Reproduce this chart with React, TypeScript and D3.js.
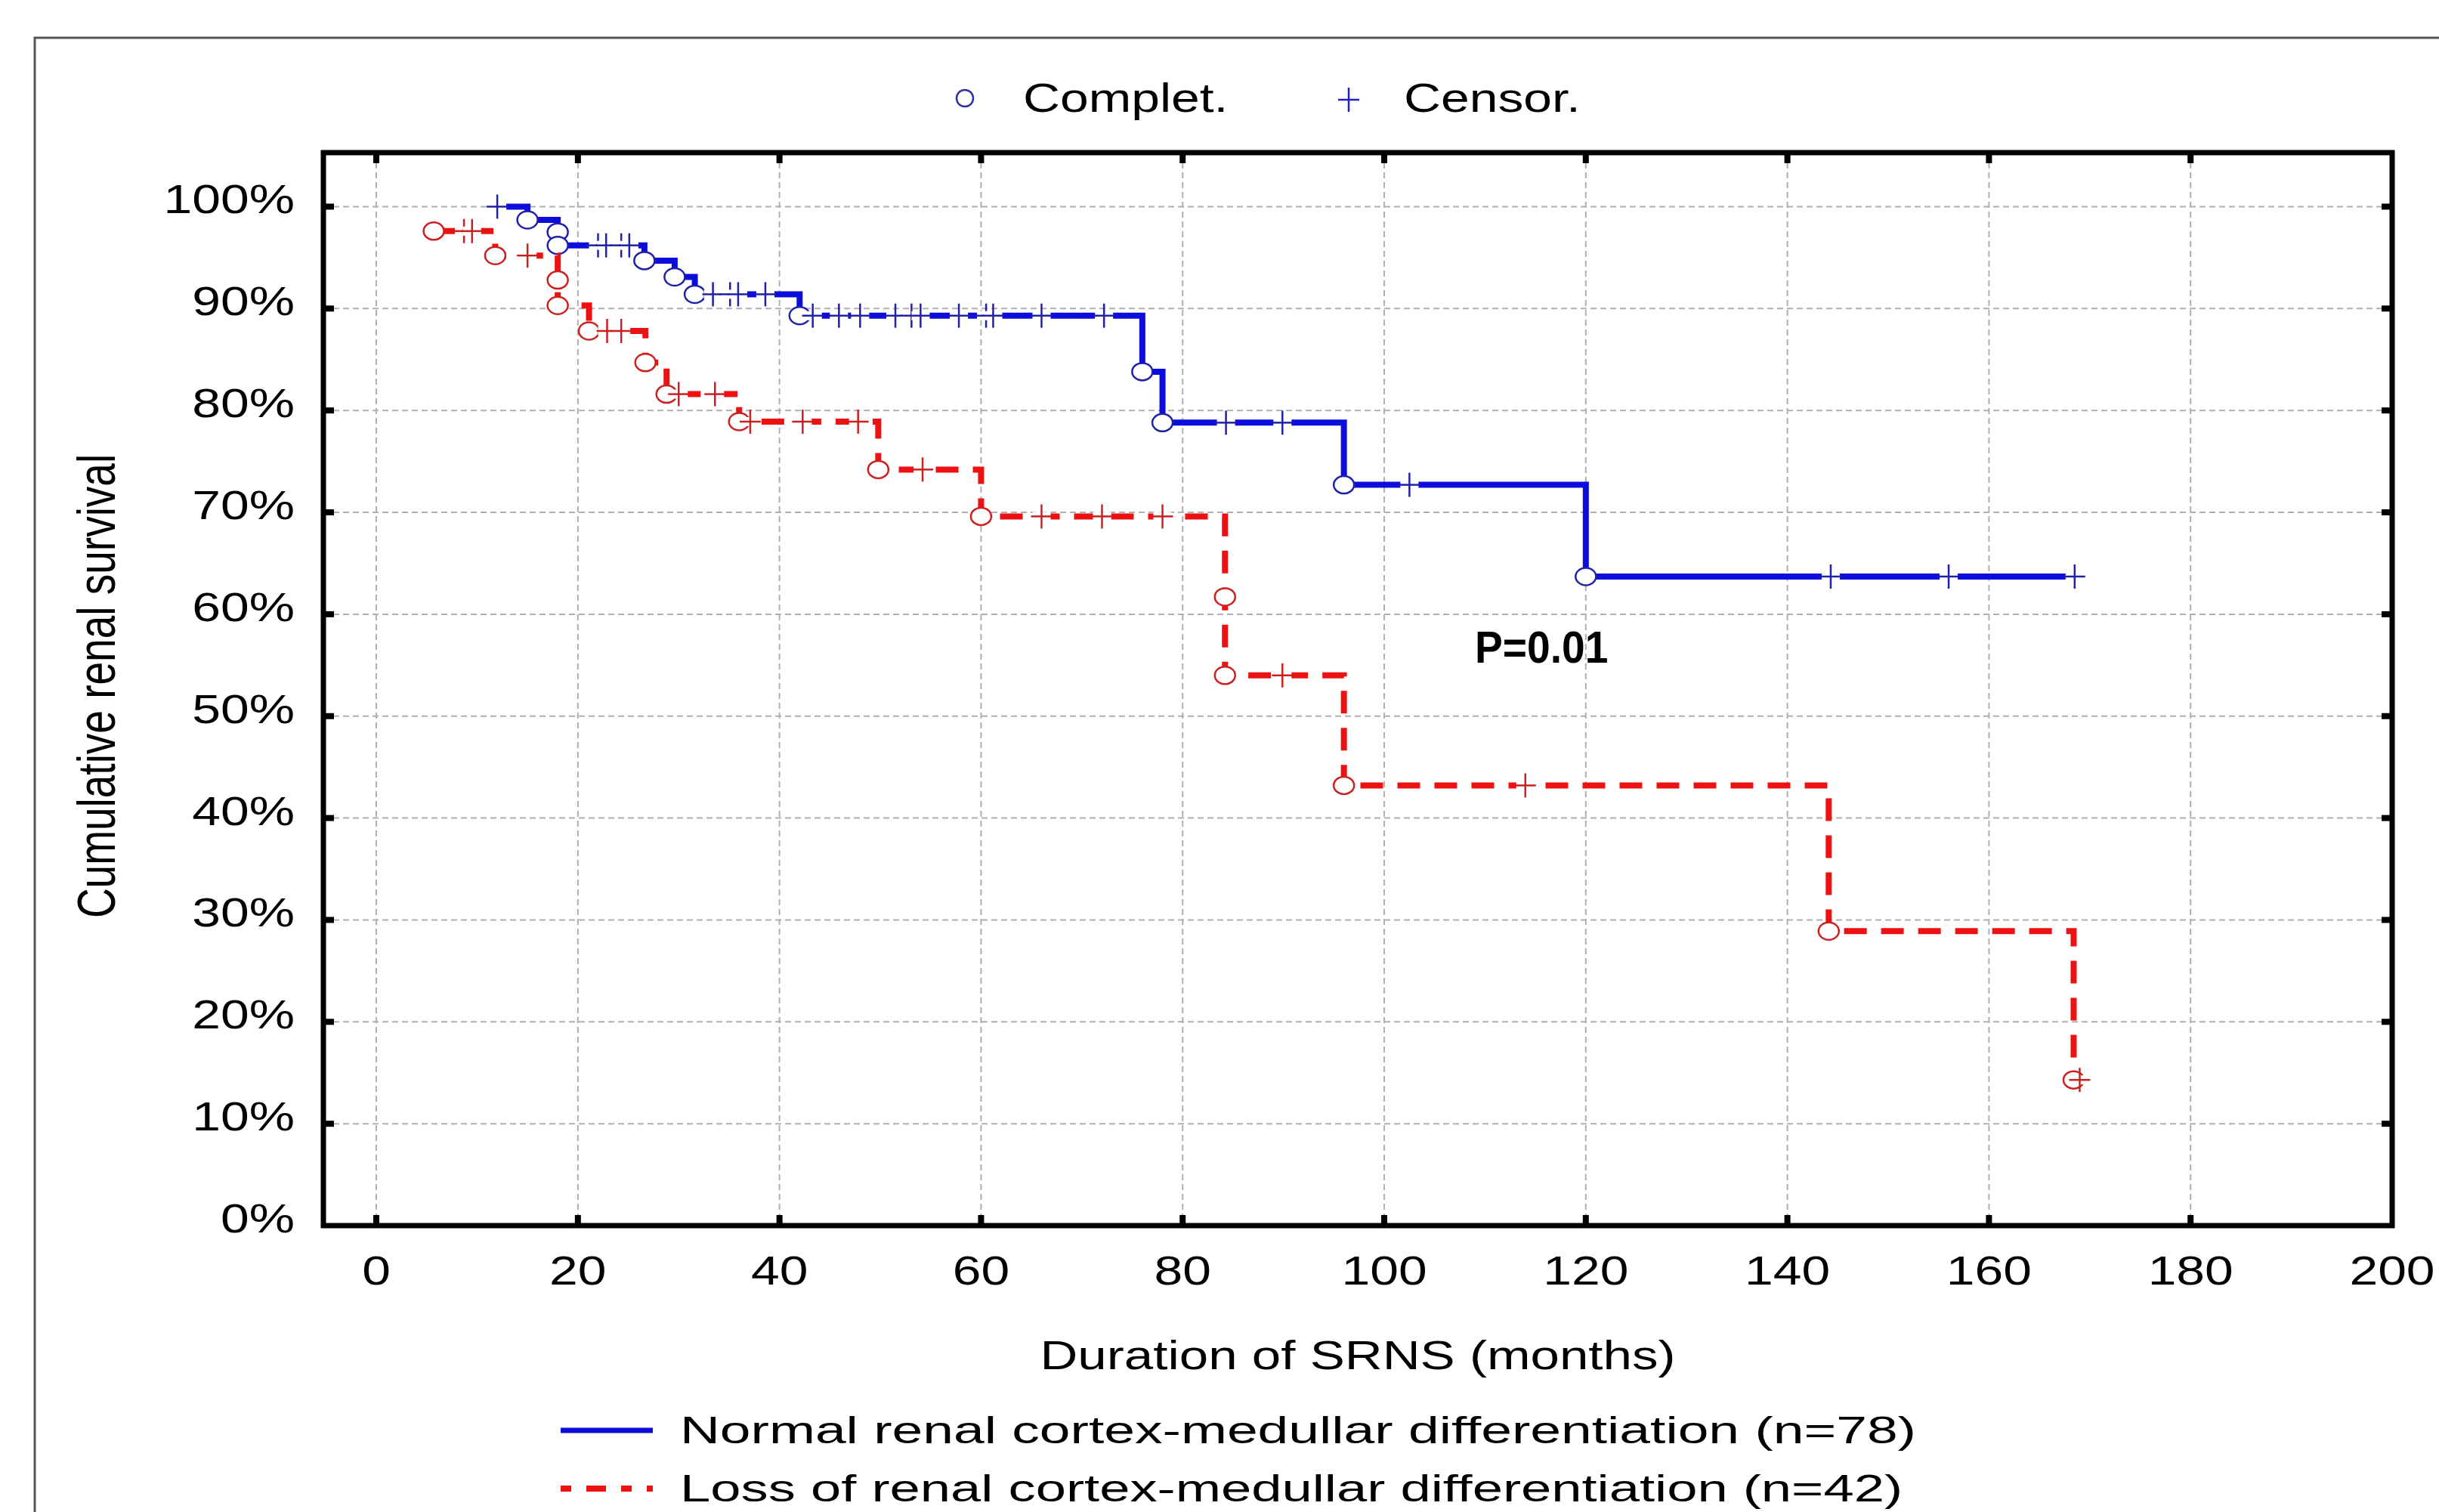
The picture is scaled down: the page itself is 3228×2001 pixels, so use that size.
import React, { useEffect } from "react";
import * as d3 from "d3";

// observations: [months, survival %, censored (1) or complete (0)]
const normalObs: [number, number, number][] = [
  [12, 100, 1],
  [15, 98.7, 0],
  [18, 97.5, 0],
  [18, 96.2, 0],
  [22, 96.2, 1],
  [22.8, 96.2, 1],
  [24.3, 96.2, 1],
  [25.1, 96.2, 1],
  [26.6, 94.7, 0],
  [29.6, 93.1, 0],
  [31.6, 91.4, 0],
  [33.4, 91.4, 1],
  [35.1, 91.4, 1],
  [35.9, 91.4, 1],
  [38.6, 91.4, 1],
  [42, 89.3, 0],
  [43.3, 89.3, 1],
  [45.9, 89.3, 1],
  [48, 89.3, 1],
  [51.5, 89.3, 1],
  [53.1, 89.3, 1],
  [54, 89.3, 1],
  [57.8, 89.3, 1],
  [60.5, 89.3, 1],
  [61.2, 89.3, 1],
  [66, 89.3, 1],
  [72.2, 89.3, 1],
  [76, 83.8, 0],
  [78, 78.8, 0],
  [84.3, 78.8, 1],
  [89.9, 78.8, 1],
  [96, 72.7, 0],
  [102.5, 72.7, 1],
  [120, 63.7, 0],
  [144.3, 63.7, 1],
  [156, 63.7, 1],
  [168.5, 63.7, 1],
];

const lossObs: [number, number, number][] = [
  [5.7, 97.6, 0],
  [8.7, 97.6, 1],
  [9.5, 97.6, 1],
  [11.8, 95.2, 0],
  [15, 95.2, 1],
  [18, 92.8, 0],
  [18, 90.3, 0],
  [21.1, 87.8, 0],
  [22.9, 87.8, 1],
  [24.3, 87.8, 1],
  [26.7, 84.7, 0],
  [28.8, 81.6, 0],
  [30, 81.6, 1],
  [33.6, 81.6, 1],
  [36, 78.9, 0],
  [37.1, 78.9, 1],
  [42.3, 78.9, 1],
  [47.8, 78.9, 1],
  [49.8, 74.2, 0],
  [54.2, 74.2, 1],
  [60, 69.6, 0],
  [66, 69.6, 1],
  [72, 69.6, 1],
  [78, 69.6, 1],
  [84.2, 61.7, 0],
  [84.2, 54.0, 0],
  [89.9, 54.0, 1],
  [96, 43.2, 0],
  [114, 43.2, 1],
  [144.1, 28.9, 0],
  [168.4, 14.3, 0],
  [169, 14.3, 1],
];

const xTicks = [0, 20, 40, 60, 80, 100, 120, 140, 160, 180, 200];
const yTicks = [0, 10, 20, 30, 40, 50, 60, 70, 80, 90, 100];
const seriesNames = [
  "Normal renal cortex-medullar differentiation (n=78)",
  "Loss of renal cortex-medullar differentiation (n=42)",
];
const markerNames = ["Complet.", "Censor."];

const W = 3228;
const H = 2001;
const FONT = "'Liberation Sans', Arial, sans-serif";
const SX = 1.28; // the original picture is stretched horizontally

const x = d3.scaleLinear().domain([-5.25, 200]).range([428, 3166]);
const y = d3.scaleLinear().domain([0, 105.3]).range([1622, 202]);

const stepLine = d3
  .line<[number, number, number]>()
  .x((d) => x(d[0]))
  .y((d) => y(d[1]))
  .curve(d3.curveStepAfter);

const BLUE = "#0c0cdc";
const RED = "#ee1111";
const BLUE_MK = "#2020a8";
const RED_MK = "#cc2020";
const DASH = "30 19";

const Txt = ({ x0, y0, size, anchor = "start", sx = SX, bold = false, children }: any) => (
  <text
    transform={`translate(${x0},${y0}) scale(${sx},1)`}
    textAnchor={anchor}
    fontFamily={FONT}
    fontSize={size}
    fontWeight={bold ? "bold" : "normal"}
    fill="#000"
  >
    {children}
  </text>
);

const Plus = ({ cx, cy, color, bg = true }: any) => (
  <g>
    {bg && <rect x={cx - 12} y={cy - 6} width={24} height={12} fill="#fff" />}
    <line x1={cx - 14} x2={cx + 14} y1={cy} y2={cy} stroke={color} strokeWidth={2.5} />
    <line x1={cx} x2={cx} y1={cy - 16} y2={cy + 16} stroke={color} strokeWidth={2.5} />
  </g>
);

const Series = ({ obs, color, mk, dash }: any) => (
  <g>
    <path d={stepLine(obs) || ""} fill="none" stroke={color} strokeWidth={8} strokeDasharray={dash} />
    {obs.map((d: any, i: number) =>
      d[2] ? (
        <Plus key={i} cx={x(d[0])} cy={y(d[1])} color={mk} />
      ) : (
        <ellipse key={i} cx={x(d[0])} cy={y(d[1])} rx={13.5} ry={11.5} fill="#fff" stroke={mk} strokeWidth={2.5} />
      )
    )}
  </g>
);

export default function App() {
  useEffect(() => {
    document.body.style.margin = "0";
  }, []);

  const [x0, x1] = x.range();
  const [y0, y1] = y.range();

  return (
    <svg width={W} height={H} style={{ display: "block", background: "#fff" }}>
      <rect x={0} y={0} width={W} height={H} fill="#fff" />
      {/* outer frame */}
      <path d={`M46,${H + 5} L46,50 L${W + 5},50`} fill="none" stroke="#555" strokeWidth={3} />

      {/* grid */}
      <g stroke="#b0b0b0" strokeWidth={2} strokeDasharray="8 5">
        {xTicks
          .filter((t) => t < 200)
          .map((t) => (
            <line key={"gx" + t} x1={x(t)} x2={x(t)} y1={y1} y2={y0} />
          ))}
        {yTicks
          .filter((t) => t > 0)
          .map((t) => (
            <line key={"gy" + t} x1={x0} x2={x1} y1={y(t)} y2={y(t)} />
          ))}
      </g>

      {/* curves */}
      <Series obs={normalObs} color={BLUE} mk={BLUE_MK} />
      <Series obs={lossObs} color={RED} mk={RED_MK} dash={DASH} />

      {/* axis box and inward ticks */}
      <rect x={x0} y={y1} width={x1 - x0} height={y0 - y1} fill="none" stroke="#000" strokeWidth={7} />
      <g stroke="#000" strokeWidth={8}>
        {xTicks
          .filter((t) => t < 200)
          .map((t) => (
            <g key={"tx" + t}>
              <line x1={x(t)} x2={x(t)} y1={y0} y2={y0 - 14} />
              <line x1={x(t)} x2={x(t)} y1={y1} y2={y1 + 14} />
            </g>
          ))}
        {yTicks
          .filter((t) => t > 0)
          .map((t) => (
            <g key={"ty" + t}>
              <line x1={x0} x2={x0 + 14} y1={y(t)} y2={y(t)} />
              <line x1={x1} x2={x1 - 14} y1={y(t)} y2={y(t)} />
            </g>
          ))}
      </g>

      {/* tick labels */}
      {xTicks.map((t) => (
        <Txt key={"lx" + t} x0={x(t)} y0={1700} size={53} anchor="middle">
          {t}
        </Txt>
      ))}
      {yTicks.map((t) => (
        <Txt key={"ly" + t} x0={390} y0={y(t) + 9} size={53} anchor="end">
          {t + "%"}
        </Txt>
      ))}

      {/* axis titles */}
      <Txt x0={(x0 + x1) / 2} y0={1812} size={54} anchor="middle">
        Duration of SRNS (months)
      </Txt>
      <text
        transform={`translate(152,908) scale(${SX},1) rotate(-90)`}
        textAnchor="middle"
        fontFamily={FONT}
        fontSize={55}
      >
        Cumulative renal survival
      </text>

      {/* p value */}
      <Txt x0={1952} y0={877} size={60} sx={0.92} bold>
        P=0.01
      </Txt>

      {/* top legend */}
      <ellipse cx={1277} cy={130} rx={11} ry={11} fill="none" stroke="#3030a0" strokeWidth={2.5} />
      <Txt x0={1354} y0={148} size={53}>
        {markerNames[0]}
      </Txt>
      <Plus cx={1785} cy={132} color="#2020c0" bg={false} />
      <Txt x0={1858} y0={148} size={53}>
        {markerNames[1]}
      </Txt>

      {/* bottom legend */}
      <line x1={742} x2={864} y1={1893} y2={1893} stroke={BLUE} strokeWidth={7} />
      <text x={900} y={1910} fontFamily={FONT} fontSize={50} textLength={1636} lengthAdjust="spacingAndGlyphs">
        {seriesNames[0]}
      </text>
      <line x1={742} x2={864} y1={1970} y2={1970} stroke={RED} strokeWidth={8} strokeDasharray="14 20 26 20" />
      <text x={900} y={1987} fontFamily={FONT} fontSize={50} textLength={1618} lengthAdjust="spacingAndGlyphs">
        {seriesNames[1]}
      </text>
    </svg>
  );
}
